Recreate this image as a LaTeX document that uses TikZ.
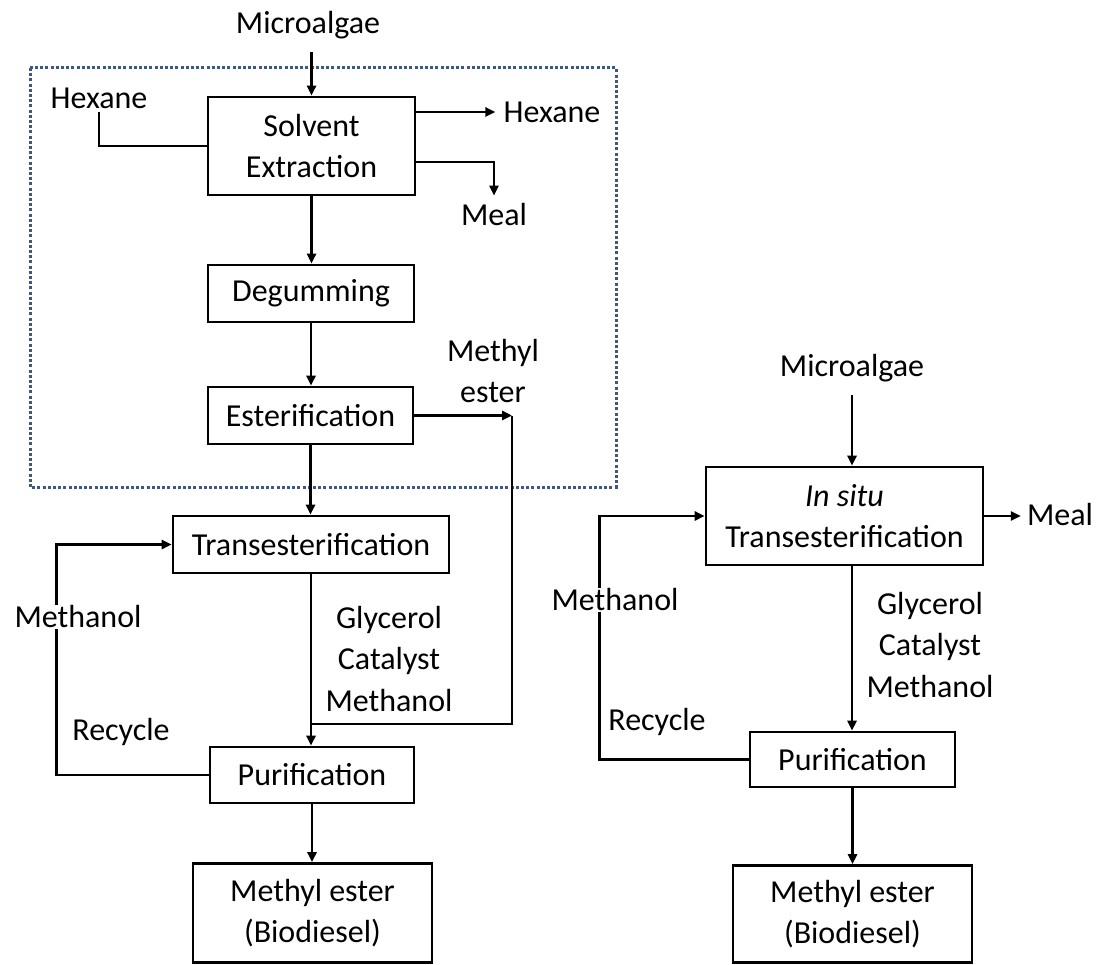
\documentclass[tikz,border=0pt]{standalone}
\usepackage{fontspec}
\setmainfont{Carlito}
\usetikzlibrary{arrows.meta}
\definecolor{dotblue}{RGB}{62,88,128}
\begin{document}
\begin{tikzpicture}[x=1pt,y=-1pt,
  every node/.style={font=\fontsize{32}{41.5}\selectfont},
  box/.style={draw,line width=2.6pt,inner sep=0pt,align=center},
  lbl/.style={inner sep=3pt,align=center},
  ln/.style={line width=2.5pt},
  arr/.style={line width=2.5pt,-{Triangle[length=10pt,width=9pt]}},
  dotbox/.style={line width=3pt,draw=dotblue,dash pattern=on 3pt off 2.2pt}
]
\useasboundingbox (0,0) rectangle (1099,965);
\draw[dotbox] (30,68) rectangle (616,487);

% left column boxes
\node[box,minimum width=207pt,minimum height=98pt] (se) at (311.5,146) {Solvent\\Extraction};
\node[box,minimum width=206pt,minimum height=57pt] (deg) at (311,293.5) {Degumming};
\node[box,minimum width=205pt,minimum height=57pt] (est) at (310.5,415.5) {Esterification};
\node[box,minimum width=276pt,minimum height=57pt] (tr) at (311,544.5) {Transesterification};
\node[box,minimum width=204pt,minimum height=56pt] (pur) at (312,775) {Purification};
\node[box,minimum width=239pt,minimum height=99pt] (me1) at (312.5,913) {Methyl ester\\(Biodiesel)};

% right column boxes
\node[box,minimum width=277pt,minimum height=98pt] (ins) at (844.5,516) {\textit{In situ}\\Transesterification};
\node[box,minimum width=205pt,minimum height=55pt] (pur2) at (852.5,759.5) {Purification};
\node[box,minimum width=239pt,minimum height=97pt] (me2) at (852.5,914) {Methyl ester\\(Biodiesel)};

% labels
\node[lbl] (ma1) at (308,25) {Microalgae};
\node[lbl] (hexL) at (99,98) {Hexane};
\node[lbl] (hexR) at (552,112) {Hexane};
\node[lbl] (meal1) at (494,215) {Meal};
\node[lbl] (mest) at (493,371) {Methyl\\ester};
\node[lbl] (gcm1) at (389,659) {Glycerol\\Catalyst\\Methanol};
\node[lbl] (rec1) at (121,732) {Recycle};
\node[lbl] (ma2) at (852,368) {Microalgae};
\node[lbl] (meal2) at (1060,515) {Meal};
\node[lbl] (gcm2) at (930,645) {Glycerol\\Catalyst\\Methanol};
\node[lbl] (rec2) at (657,722) {Recycle};

% left connectors
\draw[arr,shorten <=10pt] (se.north |- ma1.south) -- (se.north);
\draw[ln] (hexL.south) |- (se.west);
\draw[arr,shorten >=5pt] ([yshift=34pt]se.east) -- ([yshift=34pt]se.east -| hexR.west);
\draw[arr,shorten >=5pt] ([yshift=-16pt]se.east) -| (meal1.north);
\draw[arr] (se.south) -- (se.south |- deg.north);
\draw[arr] (deg.south) -- (deg.south |- est.north);
\draw[arr] (est.south) -- (est.south |- tr.north);
\draw[arr] (tr.south) -- (tr.south |- pur.north);
\draw[arr] (pur.south) -- (pur.south |- me1.north);
\coordinate (mecorner) at (512,415.5);
\coordinate (mejoin) at (311,724);
\draw[arr] (est.east) -- (mecorner);
\draw[ln] (mecorner) |- (mejoin);
\draw[arr] (pur.west) -- ++(-152,0) |- (tr.west);
\node[lbl,fill=white,inner sep=1pt] (meth1) at (78,617) {Methanol};

% right connectors
\draw[arr,shorten <=10pt] (ma2.south) -- (ma2.south |- ins.north);
\draw[arr,shorten >=3pt] (ins.east) -- (ins.east -| meal2.west);
\draw[arr] (ma2 |- ins.south) -- (ma2 |- pur2.north);
\draw[arr] (pur2.south) -- (pur2.south |- me2.north);
\draw[arr] (pur2.west) -- ++(-149,0) |- (ins.west);
\node[lbl,fill=white,inner sep=1pt] (meth2) at (615,600) {Methanol};
\end{tikzpicture}
\end{document}
